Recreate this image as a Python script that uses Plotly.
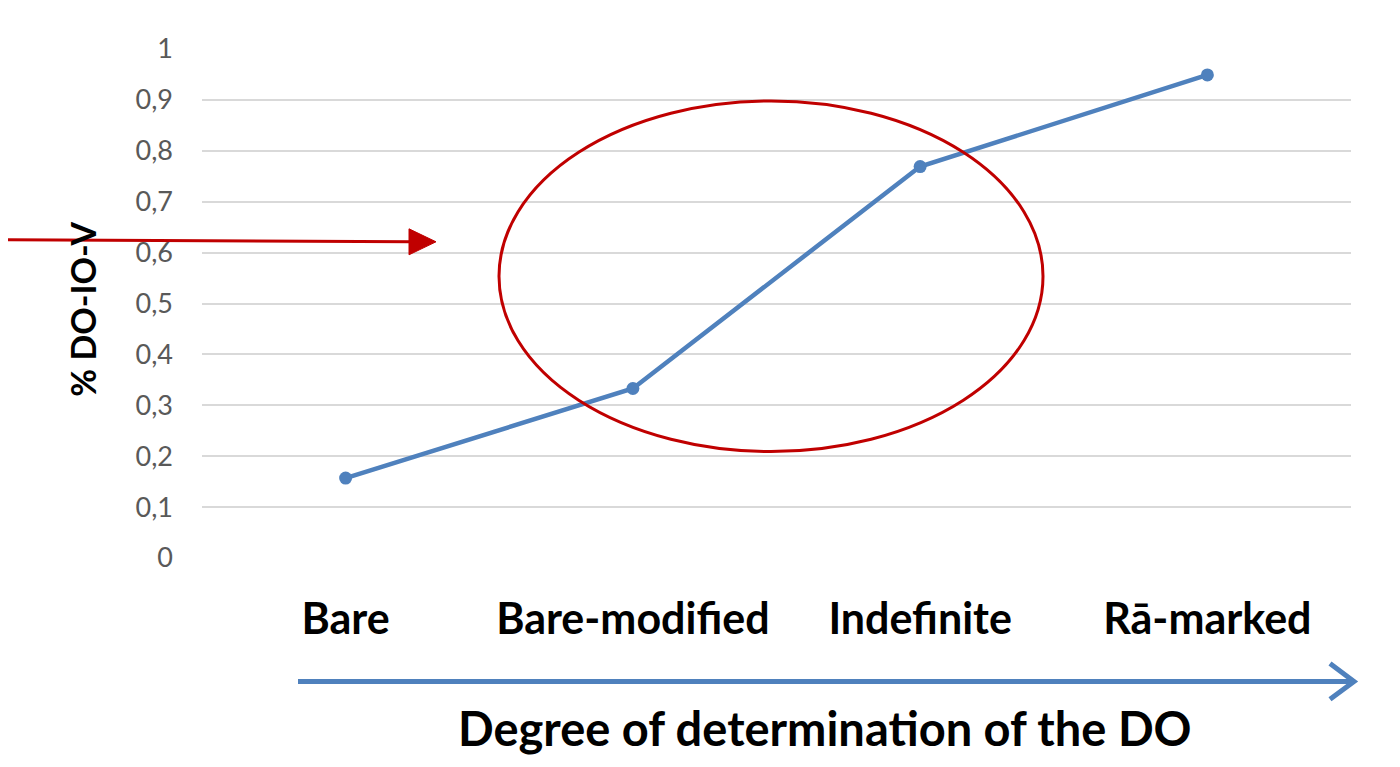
import plotly.graph_objects as go

categories = ["Bare", "Bare-modified", "Indefinite", "Rā-marked"]
values = [0.157, 0.333, 0.769, 0.949]
y_ticks = [0, 0.1, 0.2, 0.3, 0.4, 0.5, 0.6, 0.7, 0.8, 0.9, 1]

OFF = 8  # page body margin
W, H = 1400 - 2 * OFF, 767 - 2 * OFF
# plot area in page pixels
L, R, T, B = 202, 1351, 49, 558.5

def px(x):
    return (x - L) / (R - L)

def py(y):
    return (B - y) / (B - T)

FONT = "Lato"
BLUE = "#4F81BD"
RED = "#C00000"

fig = go.Figure()
fig.add_trace(go.Scatter(
    x=categories, y=values, mode="lines+markers",
    line=dict(color=BLUE, width=4.5),
    marker=dict(color=BLUE, size=13),
    showlegend=False, hoverinfo="skip", cliponaxis=False,
))

shapes = [
    dict(type="circle", xref="paper", yref="paper",
         x0=px(499), x1=px(1043), y0=py(452), y1=py(101),
         line=dict(color=RED, width=3)),
    dict(type="line", xref="paper", yref="paper",
         x0=px(OFF), y0=py(240), x1=px(412), y1=py(242),
         line=dict(color=RED, width=3)),
    dict(type="path", xref="paper", yref="paper",
         path=f"M {px(409)},{py(229)} L {px(436)},{py(242)} L {px(409)},{py(255)} Z",
         fillcolor=RED, line=dict(color=RED, width=1)),
    dict(type="line", xref="paper", yref="paper",
         x0=px(298), y0=py(682), x1=px(1353), y1=py(682),
         line=dict(color=BLUE, width=5)),
    dict(type="path", xref="paper", yref="paper",
         path=f"M {px(1330)},{py(664)} L {px(1354)},{py(682)} L {px(1330)},{py(700)}",
         line=dict(color=BLUE, width=5)),
]

annotations = [
    dict(text="% DO-IO-V", xref="paper", yref="paper",
         x=px(83), y=py(310), textangle=-90, showarrow=False,
         xanchor="center", yanchor="middle",
         font=dict(family=FONT, size=34, color="black", weight="bold")),
    dict(text="Degree of determination of the DO", xref="paper", yref="paper",
         x=px(825), y=py(759), showarrow=False,
         xanchor="center", yanchor="bottom",
         font=dict(family=FONT, size=47, color="black", weight="bold")),
]

fig.update_layout(
    width=W, height=H,
    margin=dict(l=L - OFF, r=(1400 - OFF) - R, t=T - OFF, b=(767 - OFF) - B, pad=0),
    paper_bgcolor="white", plot_bgcolor="white",
    separators=", ",
    shapes=shapes, annotations=annotations,
    xaxis=dict(
        type="category", range=[-0.5, 3.5], showgrid=False, zeroline=False,
        showline=False, ticks="", automargin=False,
        tickfont=dict(family=FONT, size=43, color="black", weight="bold"),
        ticklabelstandoff=32,
    ),
    yaxis=dict(
        range=[0, 1], tickvals=y_ticks, showgrid=True, gridcolor="#D9D9D9",
        gridwidth=1.5, zeroline=False, showline=False, ticks="", automargin=False,
        tickfont=dict(family=FONT, size=27, color="#595959"),
        ticklabelstandoff=28,
    ),
)

fig.write_html("out.html")
